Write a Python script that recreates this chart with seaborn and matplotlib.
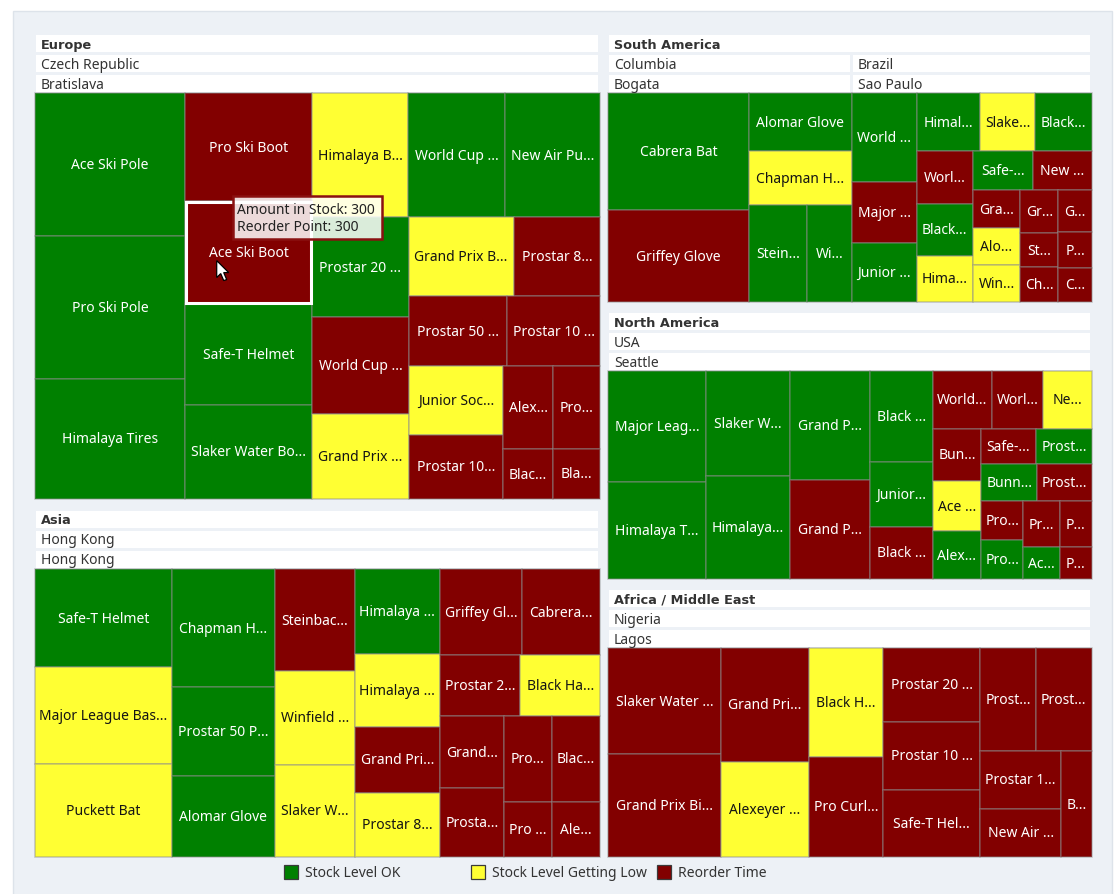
import numpy as np
import matplotlib
matplotlib.use("Agg")
import matplotlib.pyplot as plt
from matplotlib.patches import Rectangle, Polygon
import seaborn as sns

sns.set_theme(style="white")
plt.rcParams["font.family"] = ["Noto Sans", "DejaVu Sans"]

# ---------------------------------------------------------------- data
STATUS_NAMES = ["Stock Level OK", "Stock Level Getting Low", "Reorder Time"]
STATUS_COLORS = sns.color_palette(["#008000", "#ffff33", "#820000"])
LABEL_COLORS = ["white", "#141414", "white"]

# Europe / Czech Republic / Bratislava
europe_products = ["Ace Ski Pole", "Pro Ski Pole", "Himalaya Tires", "Pro Ski Boot",
                   "Ace Ski Boot", "Safe-T Helmet", "Slaker Water Bo...", "Himalaya B...",
                   "World Cup ...", "New Air Pu...", "Prostar 20 ...", "World Cup ...",
                   "Grand Prix ...", "Grand Prix B...", "Prostar 8...", "Prostar 50 ...",
                   "Prostar 10 ...", "Junior Soc...", "Prostar 10...", "Alex...", "Blac...",
                   "Pro...", "Bla..."]
europe_stock = [492, 490, 413, 315, 300, 294, 274, 273, 276, 270, 220, 214, 187, 190,
                156, 157, 147, 150, 139, 95, 57, 89, 54]
europe_status = [0, 0, 0, 2, 2, 0, 0, 1, 0, 0, 0, 2, 1, 1, 2, 2, 2, 1, 2, 2, 2, 2, 2]

# Asia / Hong Kong / Hong Kong
asia_products = ["Safe-T Helmet", "Major League Bas...", "Puckett Bat", "Chapman H...",
                 "Prostar 50 P...", "Alomar Glove", "Steinbac...", "Winfield ...",
                 "Slaker W...", "Himalaya ...", "Himalaya ...", "Grand Pri...",
                 "Prostar 8...", "Griffey Gl...", "Cabrera...", "Prostar 2...",
                 "Black Ha...", "Grand...", "Prosta...", "Pro...", "Pro ...", "Blac...",
                 "Ale..."]
asia_stock = [306, 303, 290, 279, 210, 191, 185, 170, 167, 166, 142, 129, 125, 160,
              154, 112, 111, 104, 100, 94, 61, 94, 61]
asia_status = [0, 1, 1, 0, 0, 0, 2, 1, 1, 0, 1, 2, 1, 2, 2, 2, 1, 2, 2, 2, 2, 2, 2]

# South America / Columbia / Bogata
columbia_products = ["Cabrera Bat", "Griffey Glove", "Alomar Glove", "Chapman H...",
                     "Stein...", "Wi..."]
columbia_stock = [373, 293, 136, 126, 129, 98]
columbia_status = [0, 2, 0, 1, 0, 0]

# South America / Brazil / Sao Paulo
brazil_products = ["World ...", "Major ...", "Junior ...", "Himal...", "Slake...",
                   "Black...", "Worl...", "Black...", "Hima...", "Safe-...", "New ...",
                   "Gra...", "Alo...", "Win...", "Gr...", "St...", "Ch...", "G...",
                   "P...", "C..."]
brazil_stock = [131, 88, 87, 84, 73, 75, 67, 66, 59, 53, 52, 40, 40, 39, 37, 30, 30,
                32, 27, 26]
brazil_status = [0, 2, 0, 0, 1, 0, 2, 0, 1, 0, 2, 2, 1, 1, 2, 2, 2, 2, 2, 2]

# North America / USA / Seattle
usa_products = ["Major Leag...", "Himalaya T...", "Slaker W...", "Himalaya...",
                "Grand P...", "Grand P...", "Black ...", "Junior...", "Black ...",
                "World...", "Worl...", "Ne...", "Bun...", "Ace ...", "Alex...",
                "Safe-...", "Prost...", "Bunn...", "Prost...", "Pro...", "Pro...",
                "Pr...", "Ac...", "P...", "P..."]
usa_stock = [244, 214, 200, 196, 195, 177, 128, 92, 74, 77, 66, 64, 57, 55, 52, 44,
             45, 46, 45, 37, 37, 38, 26, 34, 23]
usa_status = [0, 0, 0, 0, 0, 2, 0, 0, 2, 2, 2, 1, 2, 1, 0, 2, 0, 0, 2, 2, 0, 2, 0, 2, 2]

# Africa / Middle East / Nigeria / Lagos
nigeria_products = ["Slaker Water ...", "Grand Prix Bi...", "Grand Pri...",
                    "Alexeyer ...", "Black H...", "Pro Curl...", "Prostar 20 ...",
                    "Prostar 10 ...", "Safe-T Hel...", "Prost...", "Prost...",
                    "Prostar 1...", "New Air ...", "B..."]
nigeria_stock = [270, 262, 227, 190, 181, 167, 162, 151, 147, 129, 131, 105, 88, 74]
nigeria_status = [2, 2, 2, 1, 1, 2, 2, 2, 2, 2, 2, 2, 2, 2]

REORDER_POINT = 300
HOVERED = ("Europe", "Ace Ski Boot")

# ------------------------------------------------------- layout settings
# Strip sequence of each city's treemap: "V" = column on the left,
# "H" = row across the top, followed by the number of tiles in it.
europe_strips = [("V", 3), ("V", 4), ("H", 3), ("V", 3), ("H", 2), ("H", 2),
                 ("V", 2), ("V", 2), ("V", 2)]
asia_strips = [("V", 3), ("V", 3), ("V", 3), ("V", 4), ("H", 2), ("H", 2),
               ("V", 2), ("V", 2), ("V", 2)]
columbia_strips = [("V", 2), ("H", 1), ("H", 1), ("V", 1), ("V", 1)]
brazil_strips = [("V", 3), ("H", 3), ("V", 3), ("H", 2), ("V", 3), ("V", 3), ("V", 3)]
usa_strips = [("V", 2), ("V", 2), ("V", 2), ("V", 3), ("H", 3), ("V", 3), ("H", 2),
              ("H", 2), ("V", 2), ("V", 2), ("V", 2)]
nigeria_strips = [("V", 2), ("V", 2), ("V", 2), ("V", 3), ("H", 2), ("V", 2), ("V", 1)]

REGIONS = [
    ("Europe", (35, 94, 565, 406),
     [("Czech Republic", "Bratislava", europe_products, europe_stock, europe_status, europe_strips)]),
    ("Asia", (35, 570, 565, 288),
     [("Hong Kong", "Hong Kong", asia_products, asia_stock, asia_status, asia_strips)]),
    ("South America", (608, 94, 484, 209),
     [("Columbia", "Bogata", columbia_products, columbia_stock, columbia_status, columbia_strips),
      ("Brazil", "Sao Paulo", brazil_products, brazil_stock, brazil_status, brazil_strips)]),
    ("North America", (608, 372, 484, 208),
     [("USA", "Seattle", usa_products, usa_stock, usa_status, usa_strips)]),
    ("Africa / Middle East", (608, 649, 484, 209),
     [("Nigeria", "Lagos", nigeria_products, nigeria_stock, nigeria_status, nigeria_strips)]),
]

W_PX, H_PX = 1117, 895
HEADER_H, HEADER_STEP = 17, 20
LABEL_SIZE = 10.0
TEXT_SIZE = 10.0
TEXT_DARK = "#333333"
EDGE = (0.55, 0.55, 0.55, 0.5)


def strip_treemap(values, strips, x, y, w, h):
    """Split the rectangle into tiles whose areas follow the values."""
    vals = np.asarray(values, dtype=float)
    areas = vals / vals.sum() * w * h
    rects, i = [], 0
    for orient, n in strips:
        part = areas[i:i + n]
        if orient == "V":
            cw = part.sum() / h
            yy = y
            for a in part:
                rects.append((x, yy, cw, a / cw))
                yy += a / cw
            x += cw
            w -= cw
        else:
            rh = part.sum() / w
            xx = x
            for a in part:
                rects.append((xx, y, a / rh, rh))
                xx += a / rh
            y += rh
            h -= rh
        i += n
    return rects


def header_bar(ax, x, y, w, text, bold=False):
    ax.add_patch(Rectangle((x, y), w, HEADER_H, facecolor="white", edgecolor="none", zorder=2))
    if bold:
        ax.text(x + 5, y + HEADER_H / 2 + 0.5, text, ha="left", va="center",
                fontsize=9.3, color=TEXT_DARK, fontweight="bold",
                family=["DejaVu Sans"], zorder=3)
    else:
        ax.text(x + 5, y + HEADER_H / 2 + 0.5, text, ha="left", va="center",
                fontsize=TEXT_SIZE, color=TEXT_DARK, zorder=3)


fig = plt.figure(figsize=(W_PX / 100, H_PX / 100), dpi=100)
fig.patch.set_facecolor("white")
ax = fig.add_axes([0, 0, 1, 1])
ax.set_xlim(0, W_PX)
ax.set_ylim(H_PX, 0)
ax.axis("off")

# panel behind the chart
ax.add_patch(Rectangle((13, 12), 1099, 900, facecolor="#edf1f6", edgecolor="#dde3ea",
                       lw=1, zorder=0))

hovered_rect = None
for region, (rx, ry, rw, rh), countries in REGIONS:
    header_bar(ax, rx + 1, ry - 3 * HEADER_STEP + 2, rw - 3, region, bold=True)
    totals = np.array([sum(c[3]) for c in countries], dtype=float)
    widths = totals / totals.sum() * rw
    cx0 = rx
    for (country, city, products, stock, status, strips), cw in zip(countries, widths):
        header_bar(ax, cx0 + 1, ry - 2 * HEADER_STEP + 2, cw - 3, country)
        header_bar(ax, cx0 + 1, ry - HEADER_STEP + 2, cw - 3, city)
        rects = strip_treemap(stock, strips, cx0, ry, cw, rh)
        for name, st, (x, y, w, h) in zip(products, status, rects):
            ax.add_patch(Rectangle((x, y), w, h, facecolor=STATUS_COLORS[st],
                                   edgecolor=EDGE, lw=1.1, zorder=2))
            ax.text(x + w / 2, y + h / 2, name, ha="center", va="center",
                    fontsize=LABEL_SIZE, color=LABEL_COLORS[st], zorder=3)
            if (region, name) == HOVERED:
                hovered_rect = (x, y, w, h, stock[products.index(name)])
        cx0 += cw

# hovered tile: white outline, tooltip and pointer
if hovered_rect is not None:
    x, y, w, h, amount = hovered_rect
    ax.add_patch(Rectangle((x + 1, y + 1), w - 2, h - 2, facecolor="none",
                           edgecolor="white", lw=2.2, zorder=4))
    tx, ty = x + 48, y - 5
    ax.add_patch(Rectangle((tx, ty), 149, 43, facecolor=(1, 1, 1, 0.86),
                           edgecolor="#8a1111", lw=1.8, zorder=5))
    ax.text(tx + 4, ty + 13, f"Amount in Stock: {amount}", ha="left", va="center",
            fontsize=TEXT_SIZE, color="#222222", zorder=6)
    ax.text(tx + 4, ty + 30, f"Reorder Point: {REORDER_POINT}", ha="left", va="center",
            fontsize=TEXT_SIZE, color="#222222", zorder=6)
    px, py = x + w / 2 - 32, y + h / 2 + 8
    arrow = np.array([(0, 0), (0, 17), (4, 13), (7, 20), (10, 19), (7, 12), (12, 12)])
    ax.add_patch(Polygon(arrow + (px, py), closed=True, facecolor="white",
                         edgecolor="black", lw=0.9, zorder=7))

# legend
for i, (label, col) in enumerate(zip(STATUS_NAMES, STATUS_COLORS)):
    lx = 284 + i * 186.5
    ax.add_patch(Rectangle((lx, 866), 14, 14, facecolor=col, edgecolor="#3a3a3a",
                           lw=0.9, zorder=2))
    ax.text(lx + 21, 873.5, label, ha="left", va="center", fontsize=TEXT_SIZE,
            color=TEXT_DARK, zorder=3)

fig.savefig("out.png", dpi=100, facecolor=fig.get_facecolor())
